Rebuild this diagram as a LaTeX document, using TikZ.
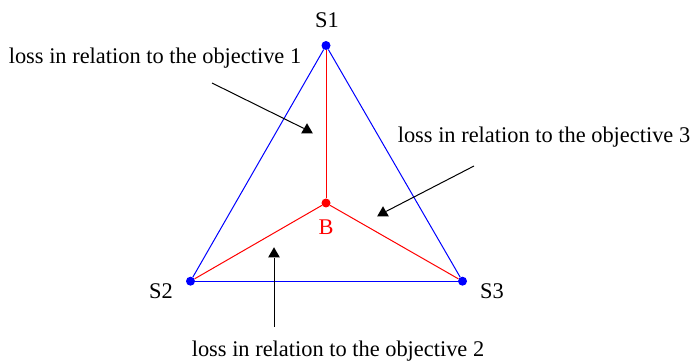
\documentclass[tikz,border=0pt]{standalone}
\usepackage{fontspec}
\setmainfont{Liberation Serif}
\usetikzlibrary{shapes.geometric}
\begin{document}
\begin{tikzpicture}[x=1pt,y=-1pt,
  vdot/.style={circle,fill=#1,inner sep=0pt,minimum size=9pt},
  lbl/.style={inner sep=0pt,font=\fontsize{22.4}{26}\selectfont},
  marker/.style={regular polygon,regular polygon sides=3,fill=black,inner sep=0pt,minimum size=13.5pt},
  wire/.style={line width=1pt}]
\useasboundingbox (0,0) rectangle (694,363);
\node[vdot=blue] (s1) at (326,45.5) {};
\node[vdot=blue] (s2) at (190.5,281.2) {};
\node[vdot=blue] (s3) at (462.5,281.2) {};
\node[vdot=red] (b) at (326,203) {};
\draw[wire,draw=blue] (s1) -- (s2);
\draw[wire,draw=blue] (s1) -- (s3);
\draw[wire,draw=blue] (s2) -- (s3);
\draw[wire,draw=red] (s1) -- (b);
\draw[wire,draw=red] (b) -- (s2);
\draw[wire,draw=red] (b) -- (s3);
\node[lbl] (l1) at (327,20) {S1};
\node[lbl] (l2) at (161,291) {S2};
\node[lbl] (l3) at (492,291) {S3};
\node[lbl,text=red] (lb) at (326,227) {B};
\node[lbl] (o1) at (155,58) {loss in relation to the objective 1};
\node[lbl] (o3) at (544,137) {loss in relation to the objective 3};
\node[lbl] (o2) at (338,351) {loss in relation to the objective 2};
\node[marker] (t1) at (307,130) {};
\node[marker] (t3) at (383,213) {};
\node[marker] (t2) at (274,254) {};
\coordinate (a1) at (212,83);
\coordinate (a3) at (474,166);
\coordinate (a2) at (274,327);
\draw[wire] (a1) -- (t1);
\draw[wire] (a3) -- (t3);
\draw[wire] (a2) -- (t2);
\end{tikzpicture}
\end{document}
